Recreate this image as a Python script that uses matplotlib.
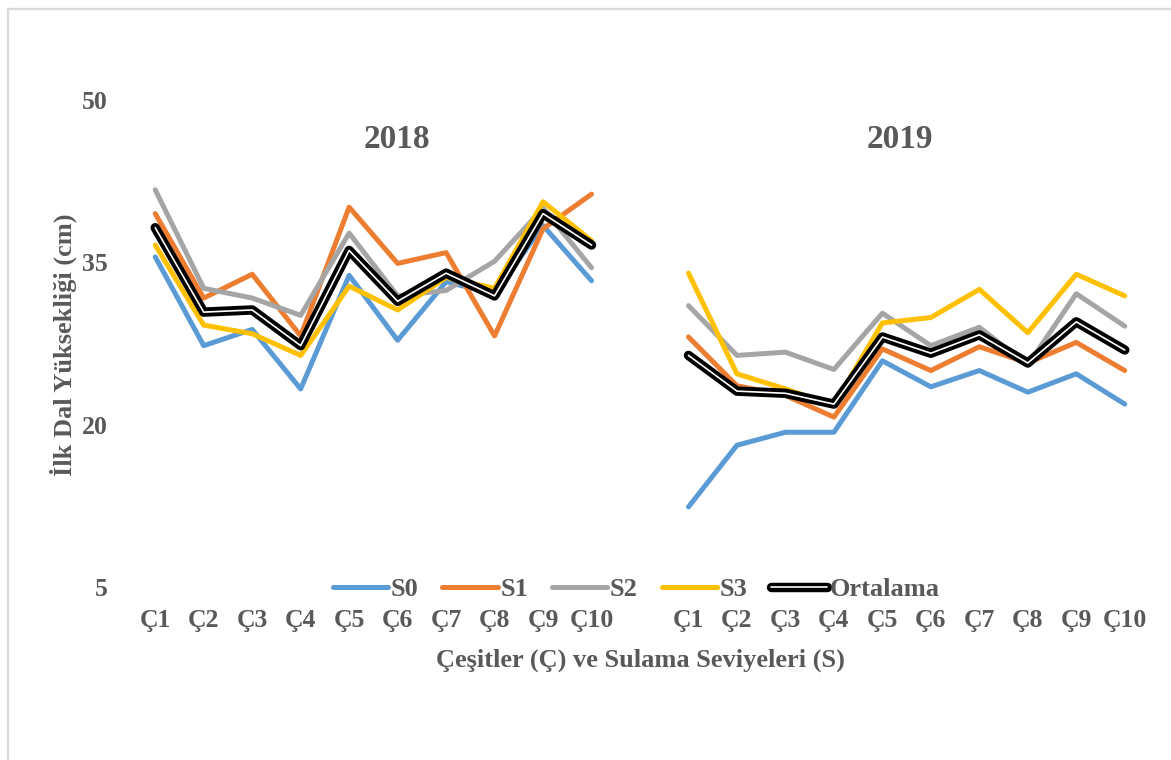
import numpy as np
import matplotlib
matplotlib.use("Agg")
import matplotlib.pyplot as plt
from matplotlib.lines import Line2D
import matplotlib.patheffects as pe

# cesitler: 2018 ve 2019 icin C1..C10, arada bos bir kategori
cesitler = ["Ç1", "Ç2", "Ç3", "Ç4", "Ç5", "Ç6", "Ç7", "Ç8", "Ç9", "Ç10"]
yillar = ["2018", "2019"]

s0_2018 = [35.5, 27.3, 28.8, 23.3, 33.8, 27.8, 33.2, 32.1, 38.4, 33.3]
s1_2018 = [39.5, 31.7, 33.9, 28.2, 40.1, 34.9, 35.9, 28.2, 38.1, 41.3]
s2_2018 = [41.7, 32.6, 31.7, 30.1, 37.7, 31.9, 32.4, 35.1, 40.0, 34.5]
s3_2018 = [36.6, 29.2, 28.4, 26.4, 32.8, 30.6, 33.6, 32.6, 40.6, 37.0]
ort_2018 = [38.2, 30.4, 30.6, 27.3, 36.1, 31.4, 34.0, 31.9, 39.5, 36.6]

s0_2019 = [12.4, 18.1, 19.3, 19.3, 25.9, 23.5, 25.0, 23.0, 24.7, 21.9]
s1_2019 = [28.1, 23.6, 22.7, 20.7, 27.0, 25.0, 27.2, 25.7, 27.6, 25.0]
s2_2019 = [31.0, 26.4, 26.7, 25.1, 30.3, 27.3, 29.0, 25.5, 32.1, 29.1]
s3_2019 = [34.0, 24.7, 23.3, 21.8, 29.4, 29.9, 32.5, 28.5, 33.9, 31.9]
ort_2019 = [26.4, 23.1, 22.9, 21.9, 28.1, 26.6, 28.3, 25.7, 29.5, 26.9]

y_ticks = [5, 20, 35, 50]

seriler = [
    ("S0", s0_2018, s0_2019, "#5B9BD5"),
    ("S1", s1_2018, s1_2019, "#ED7D31"),
    ("S2", s2_2018, s2_2019, "#A5A5A5"),
    ("S3", s3_2018, s3_2019, "#FFC000"),
]

etiketler = cesitler + [""] + cesitler
x = np.arange(len(etiketler))

font = "Liberation Serif"
gri = "#595959"

fig = plt.figure(figsize=(11.71, 7.6), dpi=100)
W, H = 1171, 760
ax = fig.add_axes([131 / W, (H - 587) / H, (1149 - 131) / W, (587 - 100) / H])

for ad, v18, v19, renk in seriler:
    y = list(v18) + [np.nan] + list(v19)
    ax.plot(x, y, color=renk, lw=3.6, solid_capstyle="round", label=ad)

y_ort = list(ort_2018) + [np.nan] + list(ort_2019)
ax.plot(x, y_ort, color="white", lw=1.2, solid_capstyle="round", label="Ortalama",
        path_effects=[pe.Stroke(linewidth=6.8, foreground="black"), pe.Normal()])

ax.set_xlim(-0.5, len(etiketler) - 0.5)
ax.set_ylim(5, 50)
ax.set_yticks(y_ticks)
ax.set_xticks(x)
ax.set_xticklabels(etiketler)
for s in ax.spines.values():
    s.set_visible(False)
ax.tick_params(axis="both", length=0, labelcolor=gri, labelsize=18.5)
ax.tick_params(axis="y", pad=17)
ax.tick_params(axis="x", pad=16)
for t in ax.get_xticklabels() + ax.get_yticklabels():
    t.set_fontfamily(font)
    t.set_fontweight("bold")

# yil basliklari
fig.text(397 / W, (H - 139) / H, yillar[0], ha="center", va="center",
         fontsize=24, fontweight="bold", family=font, color=gri)
fig.text(900 / W, (H - 139) / H, yillar[1], ha="center", va="center",
         fontsize=24, fontweight="bold", family=font, color=gri)

fig.text(63 / W, (H - 345) / H, "İlk Dal Yüksekliği (cm)", rotation=90,
         ha="center", va="center", fontsize=19, fontweight="bold", family=font, color=gri)
fig.text(640 / W, (H - 660) / H, "Çeşitler (Ç) ve Sulama Seviyeleri (S)",
         ha="center", va="center", fontsize=19, fontweight="bold", family=font, color=gri)

leg = fig.legend(loc="center", bbox_to_anchor=(636 / W, (H - 589) / H), ncol=5,
                 frameon=False, handlelength=2.1, handletextpad=0.1, columnspacing=0.9,
                 prop={"family": font, "weight": "bold", "size": 19})
for t in leg.get_texts():
    t.set_color(gri)

# cerceve (sol ve ust)
fig.add_artist(Line2D([8 / W, 8 / W], [0, (H - 9) / H], color="#D9D9D9", lw=1.6))
fig.add_artist(Line2D([8 / W, 1], [(H - 9) / H, (H - 9) / H], color="#D9D9D9", lw=1.6))

fig.savefig("out.png", dpi=100)
